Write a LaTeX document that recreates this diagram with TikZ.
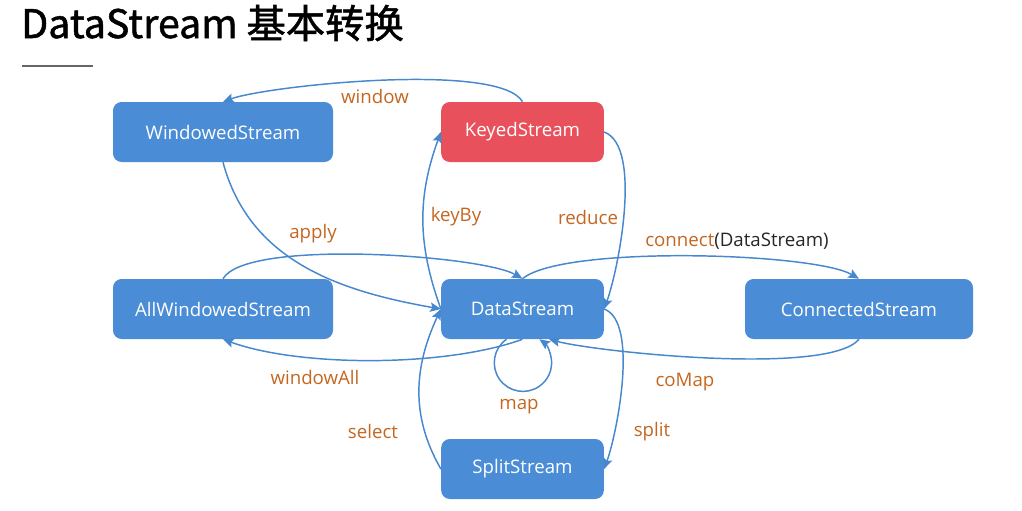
\documentclass[tikz,border=0pt]{standalone}
\usepackage{fontspec}
\setmainfont{Open Sans}
\newfontfamily\cjk{Noto Sans CJK SC}[FakeBold=1.3]
\usepackage{tikz}
\usetikzlibrary{positioning, arrows.meta}

\definecolor{boxblue}{RGB}{74,141,214}
\definecolor{boxred}{RGB}{232,81,92}
\definecolor{lineblue}{RGB}{70,135,205}
\definecolor{opcolor}{RGB}{196,102,32}

\begin{document}
\begin{tikzpicture}[
    x=0.75pt, y=0.75pt,
    stream/.style={
        rectangle,
        rounded corners=6.5pt,
        fill=#1,
        minimum width=122pt,
        minimum height=45pt,
        align=center,
        text=white,
        font=\fontsize{14}{16}\selectfont,
        inner sep=1pt
    },
    op/.style={
        text=opcolor,
        font=\fontsize{14}{16}\selectfont,
        inner sep=1pt
    },
    arr/.style={
        draw=lineblue,
        line width=1.1pt,
        -{Stealth[length=8pt,width=7pt,inset=1.5pt]}
    }
]
\useasboundingbox (0,0) rectangle (1022,-511);

% --- title ---
\node[anchor=base west, inner sep=0pt, font=\cjk\fontsize{29.5}{33}\selectfont] (title) at (21,-38) {DataStream 基本转换};
\draw[black!60, line width=0.8pt] (22,-66) -- (93,-66);

% --- streams ---
\node[stream=boxblue, minimum width=165pt] (ws) at (223,-132) {WindowedStream};
\node[stream=boxred] (ks) at (522.5,-132) {KeyedStream};
\node[stream=boxblue, minimum width=165pt] (aws) at (223,-309) {AllWindowedStream};
\node[stream=boxblue] (ds) at (522.5,-309) {DataStream};
\node[stream=boxblue, minimum width=171pt] (cs) at (859,-309) {ConnectedStream};
\node[stream=boxblue] (ss) at (522.5,-469) {SplitStream};

% --- transformations ---
\draw[arr] (ks.north) to[out=120, in=20, looseness=0.4] (ws.north);
\draw[arr] (ws.south) to[out=-75, in=170] (ds.west);
\draw[arr] (aws.north) to[out=60, in=150, looseness=0.4] (ds.north);
\draw[arr] (ds.south) to[out=-160, in=-20, looseness=0.7] (aws.south);
\draw[arr] (ds.west) to[out=110, in=-110] (ks.west);
\draw[arr] (ks.east) to[out=-20, in=70, looseness=0.6] (ds.east);
\draw[arr] (ds.north) to[out=40, in=150, looseness=0.4] (cs.north);
\draw[arr] (cs.south) to[out=-130, in=-15, looseness=0.4] ([xshift=20pt]ds.south);
\draw[arr] ([xshift=-12pt]ds.south) arc[start angle=125, end angle=415, radius=21.5pt];
\draw[arr] (ss.west) to[out=120, in=-115] (ds.west);
\draw[arr] (ds.east) to[out=-20, in=70, looseness=0.6] (ss.east);

% --- labels ---
\node[op] (lwindow) at (375,-96) {window};
\node[op] (lapply) at (313,-234) {apply};
\node[op] (lkeyby) at (456,-217) {keyBy};
\node[op] (lreduce) at (588,-217) {reduce};
\node[op] (lconnect) at (737,-241) {connect\textcolor{black!85}{(DataStream)}};
\node[op] (lwindowall) at (315,-377) {windowAll};
\node[op] (lmap) at (519,-407) {map};
\node[op] (lcomap) at (685,-382) {coMap};
\node[op] (lselect) at (373,-431) {select};
\node[op] (lsplit) at (652,-432) {split};

\end{tikzpicture}
\end{document}
